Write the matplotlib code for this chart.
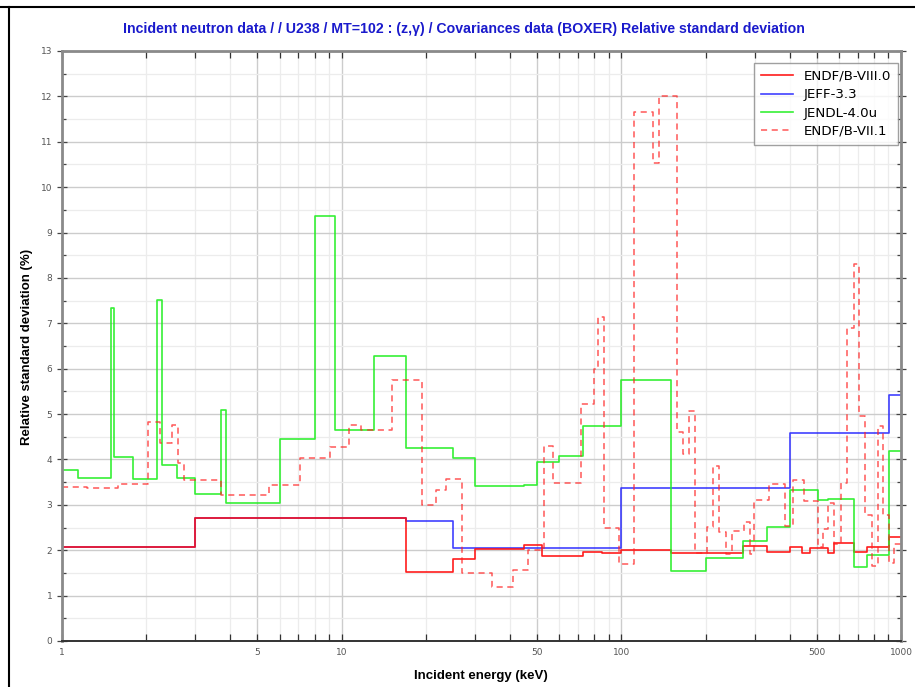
import matplotlib
matplotlib.use("Agg")
import matplotlib.pyplot as plt
from matplotlib.lines import Line2D
from matplotlib.ticker import FixedLocator, NullFormatter, MultipleLocator

# group boundaries (keV) and relative std. dev. (%) for each library
e_b8 = [1, 3, 17, 25, 30, 45, 52, 73, 85, 100, 150, 272, 332, 401, 443, 473,
        548, 576, 679, 756, 906, 1000]
v_b8 = [2.08, 2.70, 1.52, 1.80, 2.02, 2.11, 1.87, 1.97, 1.94, 2.00, 1.95,
        2.09, 1.96, 2.07, 1.93, 2.05, 1.93, 2.16, 1.96, 2.08, 2.29]

e_jeff = [1, 3, 17, 25, 100, 401, 906, 1000]
v_jeff = [2.08, 2.70, 2.64, 2.06, 3.38, 4.58, 5.43]

e_jendl = [1, 1.14, 1.50, 1.54, 1.80, 2.19, 2.28, 2.58, 3.0, 3.71, 3.87, 6.0,
           8.0, 9.5, 13.0, 17, 25, 30, 45, 50, 60, 73, 100, 150, 200, 272,
           332, 401, 504, 548, 679, 756, 906, 1000]
v_jendl = [3.76, 3.60, 7.33, 4.05, 3.58, 7.52, 3.87, 3.60, 3.23, 5.10, 3.04,
           4.45, 9.37, 4.64, 6.29, 4.25, 4.03, 3.41, 3.44, 3.95, 4.07, 4.74,
           5.76, 1.54, 1.83, 2.20, 2.51, 3.32, 3.10, 3.12, 1.63, 1.89, 4.18]

e_b7 = [1, 1.23, 1.59, 2.03, 2.24, 2.48, 2.60, 2.73, 3.71, 5.51, 7.11, 9.11,
        10.6, 11.7, 15.1, 19.3, 21.8, 23.7, 27, 34.4, 40.9, 46.2, 52.7, 56.8,
        71.6, 79.6, 82.3, 86.5, 98, 111, 129.6, 136, 158, 166, 174, 183, 202,
        212, 223, 236, 248, 274, 288, 297, 336, 385, 411, 450, 504, 526, 550,
        576, 611, 641, 679, 708, 744, 788, 828, 863, 906, 945, 1000]
v_b7 = [3.39, 3.37, 3.45, 4.82, 4.36, 4.77, 3.92, 3.54, 3.21, 3.43, 4.03,
        4.27, 4.75, 4.64, 5.74, 2.99, 3.32, 3.58, 1.50, 1.19, 1.56, 2.00,
        4.30, 3.48, 5.23, 6.00, 7.13, 2.50, 1.69, 11.66, 10.54, 12.01, 4.60,
        4.11, 5.06, 1.94, 2.51, 3.85, 2.40, 1.91, 2.42, 2.62, 1.91, 3.10,
        3.45, 2.53, 3.54, 3.08, 2.07, 2.46, 3.04, 2.13, 3.48, 6.90, 8.31,
        4.95, 2.77, 1.65, 4.73, 2.77, 1.72, 2.13]

x_major = [1, 5, 10, 50, 100, 500, 1000]
x_minor = [2, 3, 4, 6, 7, 8, 9, 20, 30, 40, 60, 70, 80, 90,
           200, 300, 400, 600, 700, 800, 900]

W, H = 915, 687
fig = plt.figure(figsize=(W / 100, H / 100), dpi=100)
ax = fig.add_axes([62 / W, 1 - 641 / H, (901 - 62) / W, (641 - 51) / H])

def stair(edges, vals, **kw):
    ax.step(edges, vals + [vals[-1]], where="post", **kw)

stair(e_jeff, v_jeff, color="#1f1fff", lw=1.2, alpha=0.85, label="JEFF-3.3")
stair(e_b8, v_b8, color="#ff1010", lw=1.2, alpha=0.95, label="ENDF/B-VIII.0")
stair(e_jendl, v_jendl, color="#20ee20", lw=1.2, alpha=0.9, label="JENDL-4.0u")
stair(e_b7, v_b7, color="#ff2020", lw=1.1, alpha=0.75, dashes=(4, 3),
      label="ENDF/B-VII.1")

ax.set_xscale("log")
ax.set_xlim(1, 1000)
ax.set_ylim(0, 13)

ax.xaxis.set_major_locator(FixedLocator(x_major))
ax.xaxis.set_minor_locator(FixedLocator(x_minor))
ax.set_xticklabels([str(v) for v in x_major])
ax.xaxis.set_minor_formatter(NullFormatter())
ax.yaxis.set_major_locator(MultipleLocator(1))
ax.yaxis.set_minor_locator(MultipleLocator(0.5))

ax.grid(which="major", color="#cccccc", lw=1.0)
ax.grid(which="minor", color="#ececec", lw=0.9)
ax.set_axisbelow(True)

ax.tick_params(axis="x", which="both", direction="in", top=True, length=5,
               width=0.9, color="#333333", labelsize=6.5, labelcolor="#555555", pad=5)
ax.tick_params(axis="y", which="major", direction="inout", length=7, width=0.9,
               color="#444444", labelsize=6.5, labelcolor="#555555", right=True)
ax.tick_params(axis="y", which="minor", direction="in", length=3, width=0.9,
               color="#444444", right=True)

ax.spines["left"].set_color("#8a8a8a")
ax.spines["left"].set_linewidth(2)
ax.spines["bottom"].set_color("#333333")
ax.spines["bottom"].set_linewidth(1.4)
ax.spines["top"].set_color("#8a8a8a")
ax.spines["top"].set_linewidth(2)
ax.spines["right"].set_color("#8a8a8a")
ax.spines["right"].set_linewidth(2)

lab_font = ["Liberation Sans", "DejaVu Sans"]
fig.text(481 / W, 1 - 676 / H, "Incident energy (keV)", ha="center", va="center",
         fontsize=9.5, fontweight="bold", family=lab_font)
fig.text(27 / W, 1 - 347 / H, "Relative standard deviation (%)", ha="center",
         va="center", rotation=90, fontsize=9.5, fontweight="bold", family=lab_font)

fig.text(464 / W, 1 - 29 / H,
         "Incident neutron data / / U238 / MT=102 : (z,\u03b3) / Covariances data (BOXER) Relative standard deviation",
         ha="center", va="center", color="#1a1acc", fontsize=10.2, fontweight="bold",
         family=["Liberation Sans Narrow", "Liberation Sans", "DejaVu Sans"])

h, l = ax.get_legend_handles_labels()
order = [1, 0, 2, 3]
leg = ax.legend([h[i] for i in order], [l[i] for i in order], loc="upper right",
                bbox_to_anchor=(1.0, 0.985), fontsize=9.6, frameon=True,
                fancybox=False, handlelength=2.4, borderaxespad=0.2,
                labelspacing=0.4, borderpad=0.55)
leg.get_frame().set_edgecolor("#888888")
leg.get_frame().set_linewidth(1.0)

# page frame lines
fig.add_artist(Line2D([9 / W, 9 / W], [0, 1 - 7 / H], color="black", lw=1.5))
fig.add_artist(Line2D([0, 1], [1 - 7 / H, 1 - 7 / H], color="black", lw=1.5))

fig.savefig("out.png", dpi=100)
